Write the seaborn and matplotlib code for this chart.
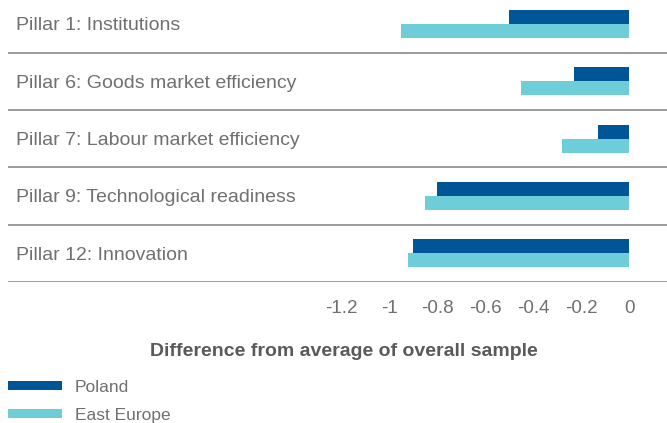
import pandas as pd
import matplotlib
matplotlib.use("Agg")
import matplotlib.pyplot as plt
import seaborn as sns


# -------------------------
# DATA
# -------------------------
pillars = [
    "Pillar 1: Institutions",
    "Pillar 6: Goods market efficiency",
    "Pillar 7: Labour market efficiency",
    "Pillar 9: Technological readiness",
    "Pillar 12: Innovation",
]
poland = [-0.50, -0.23, -0.13, -0.80, -0.90]
east_europe = [-0.95, -0.45, -0.28, -0.85, -0.92]
regions = ["Poland", "East Europe"]
x_ticks = [-1.2, -1, -0.8, -0.6, -0.4, -0.2, 0]
x_tick_labels = ["-1.2", "-1", "-0.8", "-0.6", "-0.4", "-0.2", "0"]
x_title = "Difference from average of overall sample"

colors = {"Poland": "#005596", "East Europe": "#6dcdd8"}
grey_text = "#707070"


# -------------------------
# BUILD TABLE
# -------------------------
df = pd.DataFrame({
    "pillar": pillars * 2,
    "value": poland + east_europe,
    "region": [regions[0]] * len(pillars) + [regions[1]] * len(pillars),
})


# -------------------------
# PLOT
# -------------------------
sns.set_style("white")
plt.rcParams["font.family"] = ["Liberation Sans", "DejaVu Sans"]

fig = plt.figure(figsize=(6.67, 4.23), dpi=100)
ax = fig.add_axes([8 / 667, 1 - 282 / 423, 659 / 667, 282 / 423])

sns.barplot(
    data=df, y="pillar", x="value", hue="region", orient="h",
    palette=colors, width=0.49, saturation=1, linewidth=0,
    order=pillars, hue_order=regions, ax=ax,
)

ax.set_xlim(-2.5875, 0.158)
ax.set_ylim(4.5, -0.42)

# row separators
for i in range(len(pillars)):
    ax.axhline(i + 0.5, color="#9a9a9a", lw=1.4, zorder=0)

# category labels inside the plot
for i, name in enumerate(pillars):
    ax.text(0.012, i + 0.03, name, transform=ax.get_yaxis_transform(),
            ha="left", va="center", fontsize=14, color=grey_text)

ax.set_yticks([])
ax.set_ylabel("")
ax.set_xlabel("")
ax.set_xticks(x_ticks)
ax.set_xticklabels(x_tick_labels, fontsize=13.5, color=grey_text)
ax.tick_params(axis="x", length=0, pad=13)
sns.despine(ax=ax, left=True, bottom=True)

fig.text(344 / 667, 1 - 351 / 423, x_title, ha="center", va="center",
         fontsize=14, color="#5a5a5a", fontweight="bold")

# legend at the bottom left
handles, labels = ax.get_legend_handles_labels()
ax.get_legend().remove()
fig.legend(handles, labels, loc="upper left",
           bbox_to_anchor=(8 / 667, 1 - 380 / 423), frameon=False,
           fontsize=12.5, labelcolor=grey_text, handlelength=3.1,
           handleheight=0.45, handletextpad=0.75, labelspacing=0.72,
           borderaxespad=0, borderpad=0)

plt.savefig("out.png", dpi=100)
